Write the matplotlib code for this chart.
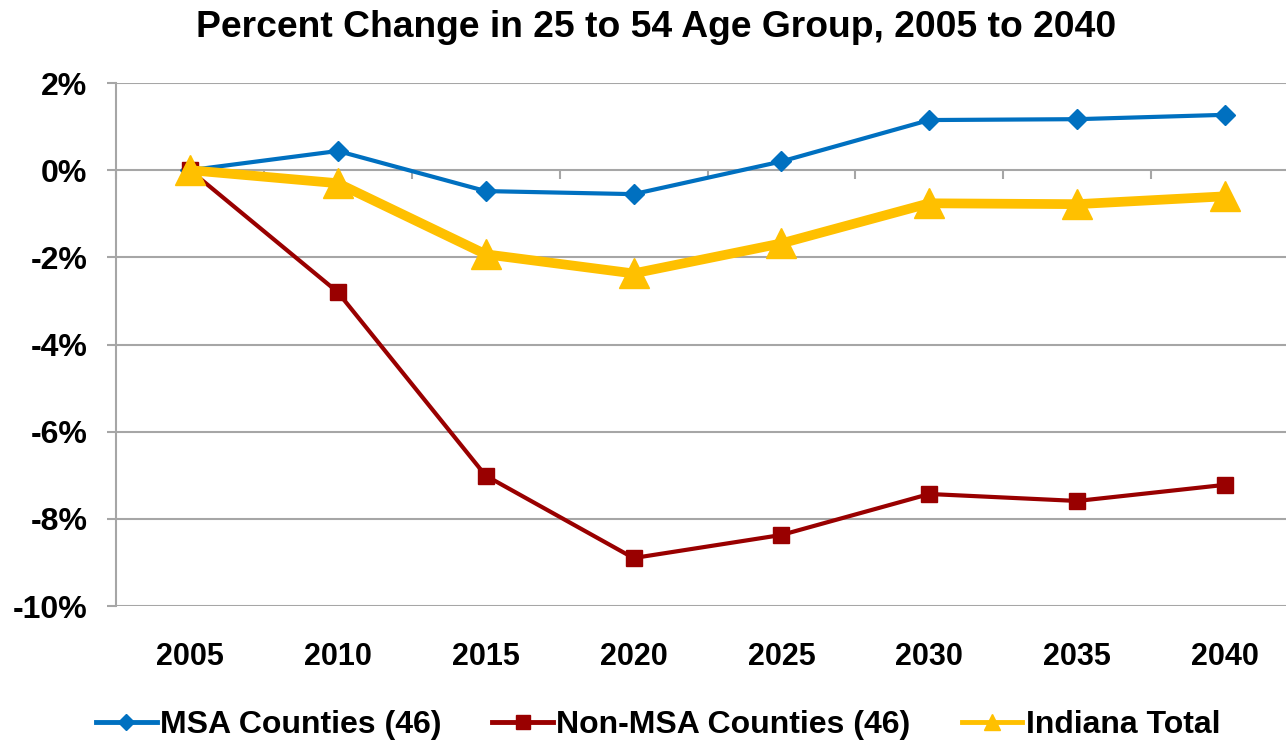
import matplotlib
matplotlib.use("Agg")
from matplotlib import pyplot as plt
from matplotlib.ticker import FuncFormatter
import numpy as np

plt.rcParams['font.family'] = ['Liberation Sans', 'DejaVu Sans']
plt.rcParams['font.weight'] = 'bold'

years = ['2005', '2010', '2015', '2020', '2025', '2030', '2035', '2040']
msa = [0.0, 0.44, -0.48, -0.55, 0.20, 1.15, 1.17, 1.27]
non_msa = [0.0, -2.80, -7.01, -8.90, -8.37, -7.43, -7.59, -7.22]
indiana = [0.0, -0.30, -1.93, -2.37, -1.68, -0.76, -0.78, -0.60]

W, H = 1286, 743
fig = plt.figure(figsize=(W / 100, H / 100), dpi=100)
# plot area runs past the right edge, like the cropped original
ax = fig.add_axes([116 / W, 1 - 606 / H, (1299 - 116) / W, (606 - 83) / H])

x = np.arange(len(years))
grid_c = '#A6A6A6'

ax.plot(x, msa, color='#0070C0', lw=3, marker='D', ms=10, label='MSA Counties (46)', zorder=3)
ax.plot(x, non_msa, color='#990000', lw=3, marker='s', ms=12, label='Non-MSA Counties (46)', zorder=3)
ax.plot(x, indiana, color='#FFC000', lw=7, marker='^', ms=22, label='Indiana Total', zorder=4)

ax.set_xlim(-0.5, 7.5)
ax.set_ylim(-10, 2)
ax.set_yticks(np.arange(-10, 3, 2))
ax.yaxis.set_major_formatter(FuncFormatter(lambda v, p: f'{v:.0f}%'))
ax.grid(axis='y', color=grid_c, lw=1.5)
ax.set_axisbelow(True)

for s in ['top', 'right', 'bottom']:
    ax.spines[s].set_visible(False)
ax.spines['left'].set_color(grid_c)
ax.spines['left'].set_linewidth(1.5)

ax.tick_params(axis='y', length=6.5, width=1.5, color=grid_c, pad=14, labelsize=23)
ax.set_xticks(x)
ax.set_xticklabels(years)
ax.tick_params(axis='x', length=0, pad=26, labelsize=22)

# category axis crosses at 0%, ticks between categories
zero_pos = (0 - (-10)) / 12
sec = ax.secondary_xaxis(zero_pos)
sec.set_xticks(np.arange(-0.5, 8, 1))
sec.set_xticklabels([])
sec.tick_params(axis='x', length=6.5, width=1.5, color=grid_c, direction='in')
sec.spines['bottom'].set_visible(False)
sec.spines['top'].set_visible(False)

fig.suptitle('Percent Change in 25 to 54 Age Group, 2005 to 2040', x=656 / W, y=1 - 10 / H,
             va='top', fontsize=26.8, fontweight='bold')

leg = fig.legend(loc='center', bbox_to_anchor=(658 / W, 1 - 725 / H), ncol=3, frameon=False,
                 fontsize=23, handlelength=1.9, columnspacing=1.6, handletextpad=0.1)
for h, ms in zip(leg.legend_handles, [8, 9.5, 11]):
    h.set_linewidth(3.5)
    h.set_markersize(ms)

fig.savefig('out.png', dpi=100)
